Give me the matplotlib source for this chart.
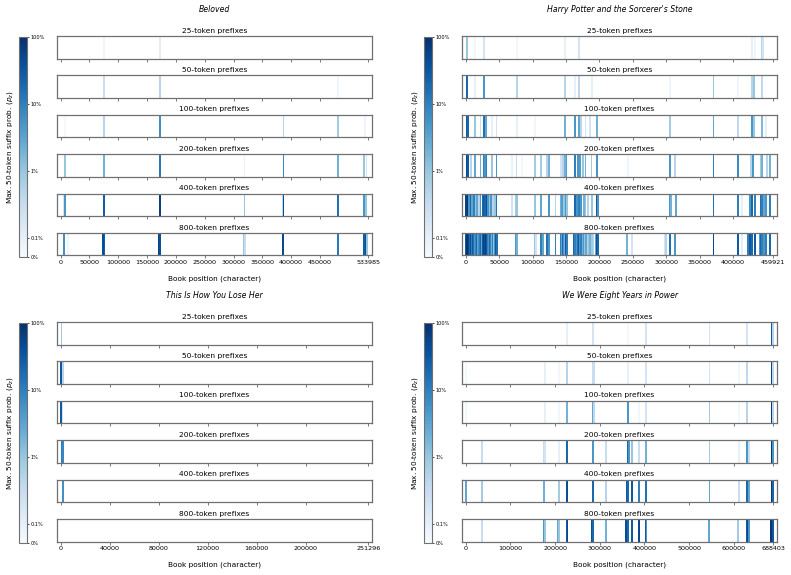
import matplotlib
matplotlib.use("Agg")
import matplotlib.pyplot as plt
from matplotlib.colors import SymLogNorm


BOOKS = [
    "Beloved",
    "Harry Potter and the Sorcerer's Stone",
    "This Is How You Lose Her",
    "We Were Eight Years in Power",
]
BOOK_LENGTHS = [533985, 459921, 251296, 688403]
PREFIXES = [25, 50, 100, 200, 400, 800]
XTICKS = [
    [0, 50000, 100000, 150000, 200000, 250000, 300000, 350000, 400000, 450000, 533985],
    [0, 50000, 100000, 150000, 200000, 250000, 300000, 350000, 400000, 459921],
    [0, 40000, 80000, 120000, 160000, 200000, 251296],
    [0, 100000, 200000, 300000, 400000, 500000, 600000, 688403],
]
CBAR_TICKS = [0, 0.001, 0.01, 0.1, 1]
CBAR_LABELS = ["0%", "0.1%", "1%", "10%", "100%"]

# (book position, max suffix probability) per prefix length
beloved = {
    25: [(75000, 0.0005), (172000, 0.0012)],
    50: [(75000, 0.003), (172000, 0.005), (482000, 0.0005)],
    100: [(7000, 0.0002), (75000, 0.005), (172000, 0.06), (386700, 0.005),
          (482000, 0.008), (528000, 0.0005)],
    200: [(7000, 0.01), (75000, 0.02), (172000, 0.12), (319000, 0.0008),
          (386700, 0.08), (482000, 0.02), (527000, 0.01), (531000, 0.002)],
    400: [(5000, 0.002), (7000, 0.05), (75000, 0.25), (172000, 0.6),
          (319000, 0.01), (385000, 0.005), (386700, 0.4), (482000, 0.15),
          (527000, 0.05), (530000, 0.01)],
    800: [(6000, 0.06), (12700, 0.0005), (74000, 0.4), (76000, 0.25),
          (171000, 0.6), (173000, 0.4), (318000, 0.01), (320000, 0.003),
          (386000, 0.5), (481000, 0.12), (526000, 0.25), (529000, 0.4),
          (532000, 0.01)],
}

harry_potter = {
    25: [(2500, 0.01), (14000, 0.0004), (27000, 0.002), (77000, 0.0004),
         (148000, 0.001), (169000, 0.002), (427600, 0.001), (432500, 0.0006),
         (442500, 0.005), (444000, 0.002)],
    50: [(2500, 0.2), (14000, 0.001), (27000, 0.05), (77000, 0.005),
         (148000, 0.005), (163000, 0.001), (169000, 0.004), (189000, 0.001),
         (305800, 0.0005), (370400, 0.01), (407700, 0.0005), (427600, 0.005),
         (431600, 0.01), (442500, 0.004)],
    100: [(2000, 0.3), (3500, 0.2), (14000, 0.01), (22000, 0.003),
          (27000, 0.15), (30000, 0.03), (39000, 0.001), (46000, 0.002),
          (77000, 0.001), (104000, 0.0004), (148000, 0.02), (163000, 0.05),
          (169000, 0.03), (173000, 0.005), (179000, 0.002), (186000, 0.002),
          (196000, 0.02), (305800, 0.008), (370400, 0.03), (407700, 0.004),
          (427600, 0.05), (431600, 0.01), (442500, 0.015), (448400, 0.001)],
    200: [(1500, 0.5), (3500, 0.3), (7500, 0.005), (14000, 0.03),
          (22000, 0.02), (27000, 0.1), (29000, 0.05), (31000, 0.1),
          (39000, 0.01), (46000, 0.05), (69600, 0.0008), (76000, 0.003),
          (84500, 0.0004), (104000, 0.008), (113000, 0.008), (122000, 0.005),
          (124300, 0.02), (143000, 0.002), (145000, 0.005), (148000, 0.02),
          (150600, 0.04), (163000, 0.1), (168000, 0.05), (171500, 0.04),
          (175000, 0.01), (179000, 0.02), (188000, 0.008), (196000, 0.05),
          (242600, 0.0005), (305800, 0.05), (313000, 0.005), (370400, 0.1),
          (407700, 0.07), (426600, 0.005), (429000, 0.05), (441500, 0.008),
          (443500, 0.02), (450000, 0.005), (455000, 0.02)],
    400: [(1000, 0.6), (3000, 0.8), (5000, 0.05), (7500, 0.2), (10000, 0.03),
          (12400, 0.1), (15000, 0.01), (17400, 0.03), (20000, 0.005),
          (22000, 0.05), (25000, 0.005), (26300, 0.2), (27800, 0.3),
          (29300, 0.2), (31000, 0.4), (32800, 0.05), (35800, 0.01),
          (38300, 0.05), (40800, 0.005), (43800, 0.01), (46000, 0.15),
          (69600, 0.002), (74600, 0.008), (77000, 0.01), (104000, 0.01),
          (113000, 0.03), (124300, 0.05), (134200, 0.005), (141700, 0.02),
          (144200, 0.04), (146700, 0.01), (149200, 0.05), (151600, 0.01),
          (163000, 0.2), (166600, 0.05), (170000, 0.1), (173000, 0.05),
          (176500, 0.02), (179000, 0.01), (183000, 0.005), (189000, 0.01),
          (196000, 0.3), (198000, 0.05), (305800, 0.05), (307300, 0.02),
          (314000, 0.03), (370400, 0.15), (407700, 0.1), (413600, 0.001),
          (425000, 0.05), (427600, 0.2), (432500, 0.1), (441500, 0.15),
          (443500, 0.1), (446500, 0.03), (448400, 0.05), (455000, 0.1)],
    800: [(0, 0.3), (1500, 0.8), (3000, 0.9), (4500, 0.5), (6000, 0.2),
          (7500, 0.4), (9000, 0.1), (10500, 0.3), (12000, 0.15),
          (13500, 0.05), (15000, 0.08), (16500, 0.2), (18000, 0.03),
          (19500, 0.06), (21000, 0.1), (22500, 0.2), (24000, 0.03),
          (25500, 0.3), (27000, 0.6), (28500, 0.4), (30000, 0.7),
          (31500, 0.3), (33000, 0.1), (34500, 0.05), (36000, 0.2),
          (37500, 0.08), (39000, 0.02), (40500, 0.1), (42000, 0.01),
          (43500, 0.05), (45000, 0.3), (46500, 0.15),
          (74600, 0.05), (76500, 0.02), (103400, 0.01), (105500, 0.002),
          (113000, 0.1), (115300, 0.03), (122000, 0.15), (124300, 0.05),
          (134200, 0.1), (141700, 0.1), (143200, 0.03), (144700, 0.2),
          (146200, 0.05), (148000, 0.02), (149500, 0.3), (151000, 0.1),
          (162000, 0.2), (163500, 0.1), (166500, 0.05), (168000, 0.15),
          (170000, 0.3), (171500, 0.05), (173000, 0.1), (175000, 0.02),
          (176500, 0.05), (178000, 0.01), (179500, 0.03), (182000, 0.005),
          (184000, 0.01), (186000, 0.02), (189000, 0.008), (191000, 0.005),
          (194000, 0.03), (196000, 0.4), (197500, 0.2),
          (241000, 0.02), (248600, 0.002), (297300, 0.002), (299300, 0.005),
          (305800, 0.15), (313000, 0.05), (370400, 0.5), (406700, 0.3),
          (413600, 0.001), (422600, 0.1), (425000, 0.3), (427600, 0.2),
          (432500, 0.3), (440000, 0.05), (441500, 0.2), (443500, 0.1),
          (446500, 0.05), (448400, 0.1), (455000, 0.2)],
}

lose_her = {
    25: [(600, 0.008)],
    50: [(500, 0.3), (1600, 0.005)],
    100: [(500, 0.3), (1500, 0.002)],
    200: [(800, 0.1), (1800, 0.08)],
    400: [(1400, 0.08), (2100, 0.06)],
    800: [],
}

eight_years = {
    25: [(227000, 0.001), (284300, 0.002), (362400, 0.0003), (404000, 0.002),
         (545500, 0.002), (630300, 0.002), (686000, 0.3), (688400, 0.005)],
    50: [(1500, 0.0003), (177100, 0.001), (208400, 0.0004), (227000, 0.005),
         (284300, 0.003), (286500, 0.003), (362400, 0.001), (404000, 0.002),
         (545500, 0.002), (612500, 0.0004), (630300, 0.004), (686000, 0.6),
         (688400, 0.004)],
    100: [(1500, 0.0004), (177100, 0.001), (208400, 0.0004), (227000, 0.02),
          (284300, 0.03), (286500, 0.004), (362400, 0.05), (387000, 0.0004),
          (404000, 0.002), (545500, 0.008), (612500, 0.0004), (630300, 0.005),
          (686000, 0.8), (688400, 0.005)],
    200: [(37200, 0.003), (175000, 0.003), (177100, 0.002), (208400, 0.001),
          (227000, 0.2), (284300, 0.05), (314000, 0.003), (362400, 0.2),
          (364600, 0.05), (372000, 0.01), (387000, 0.003), (404000, 0.02),
          (545500, 0.008), (612500, 0.001), (630300, 0.05), (634000, 0.003),
          (686000, 0.8), (688400, 0.05)],
    400: [(1500, 0.03), (37200, 0.008), (175000, 0.02), (208400, 0.008),
          (227000, 0.4), (284300, 0.2), (314000, 0.005), (361000, 0.3),
          (363000, 0.2), (372000, 0.3), (387000, 0.1), (404000, 0.15),
          (545500, 0.03), (612500, 0.003), (630300, 0.2), (634000, 0.03),
          (684500, 0.8), (686700, 0.5), (688400, 0.2)],
    800: [(35700, 0.003), (37200, 0.003), (175000, 0.05), (177100, 0.01),
          (207000, 0.03), (208400, 0.01), (225500, 0.3), (227700, 0.5),
          (282800, 0.4), (285000, 0.2), (314000, 0.02), (359500, 0.4),
          (361700, 0.5), (364000, 0.2), (372000, 0.3), (387000, 0.5),
          (402600, 0.3), (404800, 0.05), (544800, 0.03), (610200, 0.008),
          (629600, 0.3), (631800, 0.5), (634800, 0.05), (683900, 0.8),
          (686000, 0.9), (688400, 0.3)],
}

BOOK_DATA = [beloved, harry_potter, lose_her, eight_years]

W, H = 791, 575
cmap = plt.get_cmap("Blues")
norm = SymLogNorm(linthresh=1e-3, linscale=0.26, vmin=0, vmax=1, base=10)
FRAME = "#707070"


def px_axes(fig, x, y, w, h):
    return fig.add_axes([x / W, 1 - (y + h) / H, w / W, h / H])


def draw_book(fig, idx, ox, oy):
    name = BOOKS[idx]
    length = BOOK_LENGTHS[idx]
    data = BOOK_DATA[idx]
    bar_w = length / 170
    strip_x, strip_w, strip_h, step = ox + 57, 315, 22.5, 39.4

    fig.text((ox + 57 + strip_w / 2) / W, 1 - (oy + 10) / H, name,
             ha="center", va="center", fontsize=5.6, style="italic")

    for i, pref in enumerate(PREFIXES):
        ax = px_axes(fig, strip_x, oy + 36 + i * step, strip_w, strip_h)
        pts = data[pref]
        if pts:
            xs = [p for p, v in pts]
            cs = [cmap(norm(v)) for p, v in pts]
            ax.bar(xs, 1, width=bar_w, bottom=0, color=cs, linewidth=0,
                   align="center")
        ax.set_xlim(-0.012 * length, 1.012 * length)
        ax.set_ylim(0, 1)
        ax.set_yticks([])
        ax.set_xticks(XTICKS[idx])
        ax.set_xticklabels([str(t) for t in XTICKS[idx]])
        ax.tick_params(axis="x", length=2, width=0.5, color="#444444",
                       labelsize=4.6, pad=1.5, labelbottom=(i == 5))
        for sp in ax.spines.values():
            sp.set_color(FRAME)
            sp.set_linewidth(0.9)
        ax.set_title(f"{pref}-token prefixes", fontsize=5.4, pad=2.5)

    fig.text((ox + 57 + strip_w / 2) / W, 1 - (oy + 279) / H,
             "Book position (character)", ha="center", va="center",
             fontsize=5.3)

    cax = px_axes(fig, ox + 19, oy + 37, 8, 220)
    sm = plt.cm.ScalarMappable(norm=norm, cmap=cmap)
    cb = fig.colorbar(sm, cax=cax)
    cb.set_ticks(CBAR_TICKS)
    cb.set_ticklabels(CBAR_LABELS)
    cb.minorticks_off()
    cb.outline.set_edgecolor(FRAME)
    cb.outline.set_linewidth(0.8)
    cax.tick_params(labelsize=3.6, length=1.5, width=0.5, pad=1)
    cax.yaxis.set_label_position("left")
    cb.set_label("Max. 50-token suffix prob. ($p_z$)", fontsize=5.3, labelpad=3)


fig = plt.figure(figsize=(W / 100, H / 100), dpi=100)
offsets = [(0, 0), (405, 0), (0, 286), (405, 286)]
for k, (ox, oy) in enumerate(offsets):
    draw_book(fig, k, ox, oy)

fig.savefig("out.png", dpi=100)
